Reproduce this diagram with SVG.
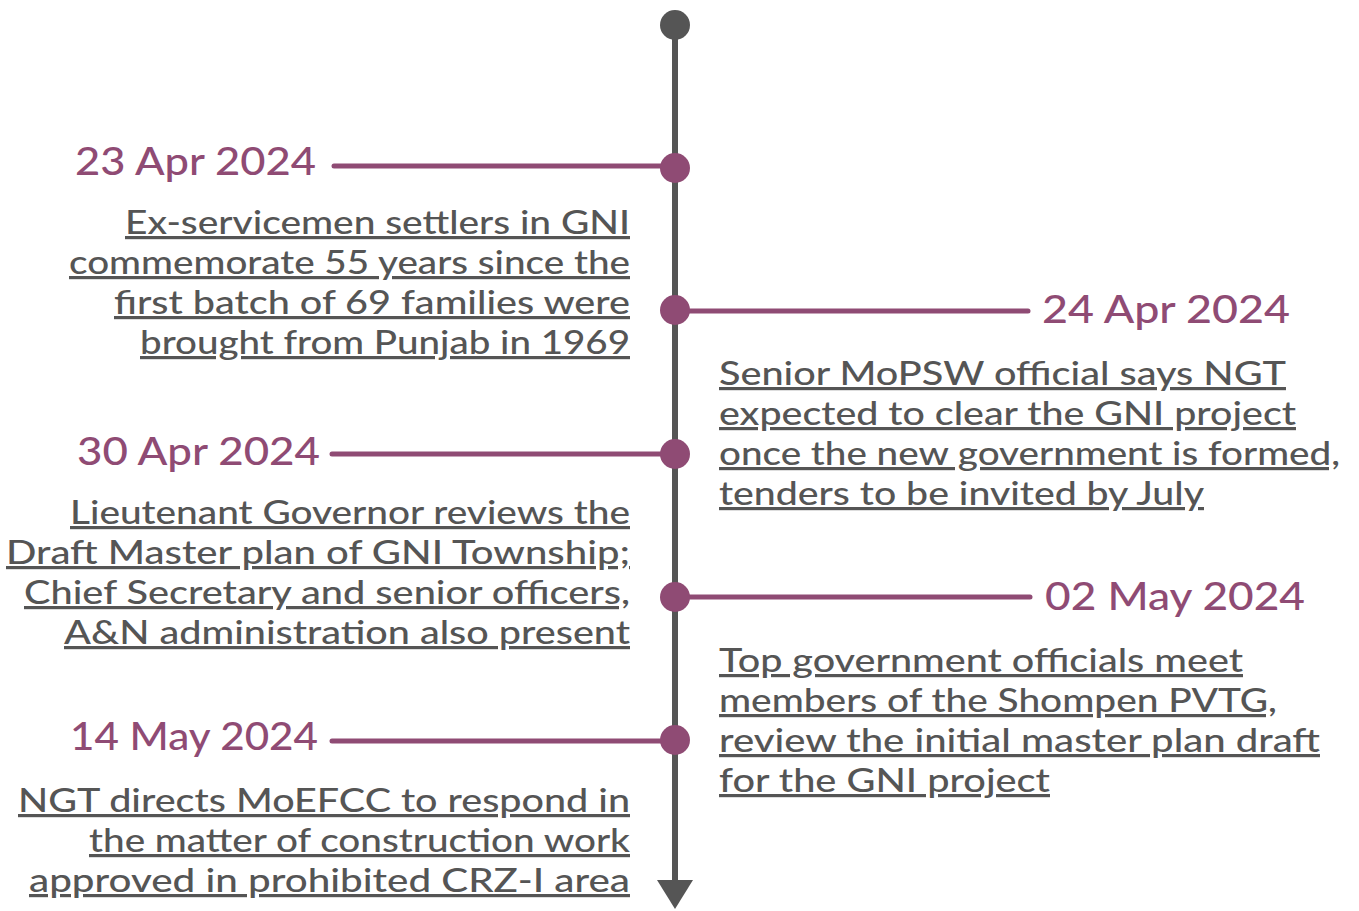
<svg xmlns="http://www.w3.org/2000/svg" width="1359" height="911" viewBox="0 0 1359 911">
<style>
.date{font-family:Lato,"Open Sans",sans-serif;font-size:38px;fill:#8f4b74;font-weight:500}
.body{font-family:Lato,"Open Sans",sans-serif;font-size:32px;fill:#555555;text-decoration:underline;font-weight:500}
.conn{stroke:#8f4b74;stroke-width:5;stroke-linecap:round;fill:none}
.dot{fill:#8f4b74}
</style>
<rect width="1359" height="911" fill="#ffffff"/>
<g id="axis">
<line x1="675" y1="25" x2="675" y2="884" stroke="#555555" stroke-width="6"/>
<circle cx="675" cy="25" r="15" fill="#555555"/>
<polygon points="657,880 693,880 675,909" fill="#555555"/>
</g>
<g id="connectors">
<line class="conn" x1="334" y1="166" x2="675" y2="166"/>
<line class="conn" x1="675" y1="311" x2="1028" y2="311"/>
<line class="conn" x1="332" y1="454" x2="675" y2="454"/>
<line class="conn" x1="675" y1="597" x2="1030" y2="597"/>
<line class="conn" x1="332" y1="741" x2="675" y2="741"/>
</g>
<g id="e1">
<circle class="dot" cx="675" cy="168" r="15"/>
<text class="date" x="75" y="175" textLength="241" lengthAdjust="spacingAndGlyphs">23 Apr 2024</text>
<text class="body" x="125" y="234" textLength="505" lengthAdjust="spacingAndGlyphs">Ex-servicemen settlers in GNI</text>
<text class="body" x="69" y="274" textLength="561" lengthAdjust="spacingAndGlyphs">commemorate 55 years since the</text>
<text class="body" x="114" y="314" textLength="516" lengthAdjust="spacingAndGlyphs">first batch of 69 families were</text>
<text class="body" x="140" y="354" textLength="490" lengthAdjust="spacingAndGlyphs">brought from Punjab in 1969</text>
</g>
<g id="e2">
<circle class="dot" cx="675" cy="310" r="15"/>
<text class="date" x="1042" y="323" textLength="248" lengthAdjust="spacingAndGlyphs">24 Apr 2024</text>
<text class="body" x="719" y="385" textLength="567" lengthAdjust="spacingAndGlyphs">Senior MoPSW official says NGT</text>
<text class="body" x="719" y="425" textLength="577" lengthAdjust="spacingAndGlyphs">expected to clear the GNI project</text>
<text class="body" x="719" y="465" textLength="621" lengthAdjust="spacingAndGlyphs">once the new government is formed,</text>
<text class="body" x="719" y="505" textLength="485" lengthAdjust="spacingAndGlyphs">tenders to be invited by July</text>
</g>
<g id="e3">
<circle class="dot" cx="675" cy="454" r="15"/>
<text class="date" x="77" y="465" textLength="243" lengthAdjust="spacingAndGlyphs">30 Apr 2024</text>
<text class="body" x="70" y="524" textLength="560" lengthAdjust="spacingAndGlyphs">Lieutenant Governor reviews the</text>
<text class="body" x="6" y="564" textLength="624" lengthAdjust="spacingAndGlyphs">Draft Master plan of GNI Township;</text>
<text class="body" x="24" y="604" textLength="606" lengthAdjust="spacingAndGlyphs">Chief Secretary and senior officers,</text>
<text class="body" x="64" y="644" textLength="566" lengthAdjust="spacingAndGlyphs">A&amp;N administration also present</text>
</g>
<g id="e4">
<circle class="dot" cx="675" cy="597" r="15"/>
<text class="date" x="1045" y="610" textLength="260" lengthAdjust="spacingAndGlyphs">02 May 2024</text>
<text class="body" x="719" y="672" textLength="524" lengthAdjust="spacingAndGlyphs">Top government officials meet</text>
<text class="body" x="719" y="712" textLength="558" lengthAdjust="spacingAndGlyphs">members of the Shompen PVTG,</text>
<text class="body" x="719" y="752" textLength="601" lengthAdjust="spacingAndGlyphs">review the initial master plan draft</text>
<text class="body" x="719" y="792" textLength="331" lengthAdjust="spacingAndGlyphs">for the GNI project</text>
</g>
<g id="e5">
<circle class="dot" cx="675" cy="740" r="15"/>
<text class="date" x="70" y="750" textLength="248" lengthAdjust="spacingAndGlyphs">14 May 2024</text>
<text class="body" x="18" y="812" textLength="612" lengthAdjust="spacingAndGlyphs">NGT directs MoEFCC to respond in</text>
<text class="body" x="89" y="852" textLength="541" lengthAdjust="spacingAndGlyphs">the matter of construction work</text>
<text class="body" x="29" y="892" textLength="601" lengthAdjust="spacingAndGlyphs">approved in prohibited CRZ-I area</text>
</g>
</svg>
